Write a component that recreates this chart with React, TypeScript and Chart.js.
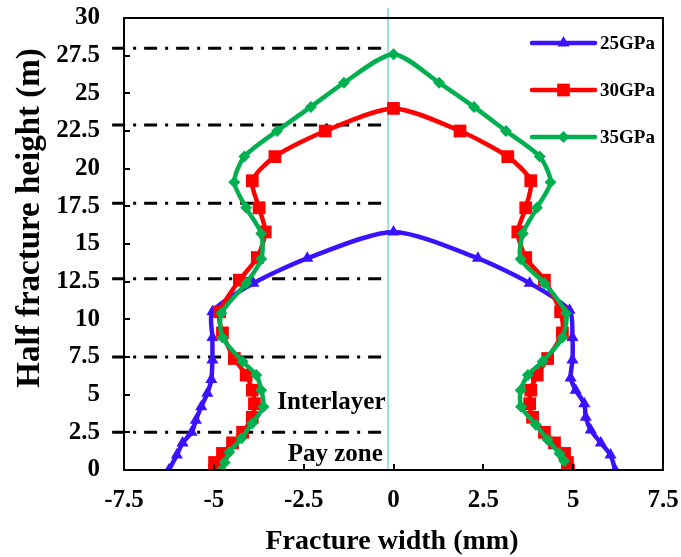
import React, { useEffect, useRef } from 'react';
import { Chart, registerables } from 'chart.js';

Chart.register(...registerables);

// ---------- data ----------
const seriesNames = ['25GPa', '30GPa', '35GPa'];
const seriesColors = ['#3a12ff', '#ff0000', '#00b050'];

// 25 GPa: left branch (bottom -> top), right branch (just below top -> bottom)
const gpa25LeftX = [-6.25, -6.03, -5.87, -5.62, -5.5, -5.35, -5.18, -5.07, -5.04, -5.04, -5.04, -3.9, -2.4, 0];
const gpa25LeftY = [0, 1.0, 1.8, 2.5, 3.3, 4.2, 5.1, 6.0, 7.3, 8.8, 10.5, 12.4, 14.05, 15.8];
const gpa25RightX = [2.35, 3.79, 4.9, 4.98, 4.98, 4.93, 5.07, 5.31, 5.35, 5.49, 5.77, 6.04, 6.17];
const gpa25RightY = [14.05, 12.4, 10.6, 8.8, 7.3, 6.1, 5.3, 4.4, 3.5, 2.65, 1.8, 1.0, 0];

// 30 GPa
const gpa30LeftX = [-4.98, -4.98, -4.76, -4.48, -4.2, -3.93, -3.87, -3.93, -4.1, -4.43, -4.76, -4.84, -4.29, -3.79, -3.57, -3.74, -3.93, -3.3, -1.9, 0];
const gpa30LeftY = [0, 0.5, 1.1, 1.8, 2.5, 3.5, 4.4, 5.3, 6.3, 7.4, 9.1, 10.5, 12.6, 14.1, 15.8, 17.4, 19.2, 20.8, 22.5, 24.0];
const gpa30RightX = [1.85, 3.18, 3.82, 3.68, 3.46, 3.68, 4.2, 4.65, 4.7, 4.29, 4.0, 3.82, 3.79, 3.87, 4.2, 4.48, 4.76, 4.84, 4.87];
const gpa30RightY = [22.5, 20.8, 19.2, 17.4, 15.8, 14.1, 12.6, 10.5, 9.1, 7.4, 6.3, 5.3, 4.4, 3.5, 2.5, 1.8, 1.1, 0.5, 0];

// 35 GPa
const gpa35LeftX = [-4.79, -4.7, -4.57, -4.23, -3.93, -3.62, -3.68, -3.82, -4.2, -4.76, -4.79, -4.1, -3.68, -3.68, -4.1, -4.43, -4.15, -3.24, -2.3, -1.38, 0];
const gpa35LeftY = [0, 0.5, 1.2, 2.1, 3.1, 4.2, 5.3, 6.3, 7.2, 8.8, 10.4, 12.4, 14.0, 15.7, 17.4, 19.1, 20.8, 22.5, 24.1, 25.7, 27.6];
const gpa35RightX = [1.27, 2.24, 3.13, 4.07, 4.37, 3.99, 3.6, 3.54, 4.2, 4.8, 4.7, 4.15, 3.74, 3.54, 3.55, 3.96, 4.29, 4.62, 4.75];
const gpa35RightY = [25.7, 24.1, 22.5, 20.8, 19.1, 17.4, 15.7, 14.0, 12.4, 10.4, 8.8, 7.2, 6.3, 5.3, 4.2, 3.0, 2.0, 1.1, 0.6];

// layer boundary (dash-dot) lines and centre line
const boundaryY = [2.5, 7.5, 12.7, 17.7, 22.9, 28.0];
const boundaryStartX = -7.83;
const boundaryEndX = -0.25;
const centerLineX = -0.15;
const centerLineY = [0, 30.65];

// zone labels
const zoneLabels = ['Interlayer', 'Pay zone'];
const zoneLabelX = [-1.73, -1.62];
const zoneLabelY = [4.5, 1.0];

// axes
const xTickValues = [-7.5, -5, -2.5, 0, 2.5, 5, 7.5];
const xTickLabels = ['-7.5', '-5', '-2.5', '0', '2.5', '5', '7.5'];
const yTickValues = [0, 2.5, 5, 7.5, 10, 12.5, 15, 17.5, 20, 22.5, 25, 27.5, 30];
const yTickLabels = ['0', '2.5', '5', '7.5', '10', '12.5', '15', '17.5', '20', '22.5', '25', '27.5', '30'];
const xTitle = 'Fracture width (mm)';
const yTitle = 'Half fracture height (m)';

// ---------- helpers ----------
const FONT = "'Liberation Serif', 'Times New Roman', serif";

function zip(xs: number[], ys: number[]) {
  return xs.map((x, i) => ({ x, y: ys[i] }));
}

const pointStyles = ['triangle', 'rect', 'rectRot'];
const pointRadii = [7, 9, 6];

function drawMarker(ctx: CanvasRenderingContext2D, style: string, x: number, y: number, r: number, color: string) {
  ctx.fillStyle = color;
  ctx.beginPath();
  if (style === 'triangle') {
    const half = r * Math.sin(Math.PI / 3);
    ctx.moveTo(x, y - r);
    ctx.lineTo(x + half, y + r / 2);
    ctx.lineTo(x - half, y + r / 2);
  } else if (style === 'rect') {
    const s = r * Math.SQRT1_2;
    ctx.rect(x - s, y - s, 2 * s, 2 * s);
  } else {
    ctx.moveTo(x, y - r);
    ctx.lineTo(x + r, y);
    ctx.lineTo(x, y + r);
    ctx.lineTo(x - r, y);
  }
  ctx.closePath();
  ctx.fill();
}

const overlayPlugin = {
  id: 'overlay',
  afterDraw(chart: any) {
    const { ctx, chartArea } = chart;
    const { left, right, top, bottom } = chartArea;
    const xs = chart.scales.x;
    const ys = chart.scales.y;
    ctx.save();
    // frame
    ctx.strokeStyle = '#000';
    ctx.lineWidth = 2;
    ctx.strokeRect(left, top, right - left, bottom - top);
    // inward tick marks
    ctx.beginPath();
    xTickValues.forEach((v) => {
      const px = Math.round(xs.getPixelForValue(v));
      ctx.moveTo(px, bottom);
      ctx.lineTo(px, bottom - 6);
    });
    yTickValues.forEach((v) => {
      const py = Math.round(ys.getPixelForValue(v));
      ctx.moveTo(left, py);
      ctx.lineTo(left + 6, py);
    });
    ctx.stroke();

    // zone labels
    ctx.fillStyle = '#000';
    ctx.font = `bold 25px ${FONT}`;
    ctx.textAlign = 'center';
    ctx.textBaseline = 'middle';
    zoneLabels.forEach((t, i) => {
      ctx.fillText(t, xs.getPixelForValue(zoneLabelX[i]), ys.getPixelForValue(zoneLabelY[i]));
    });

    // legend
    const legX0 = 532;
    const legX1 = 595;
    const legY0 = 43;
    const legDy = 47;
    ctx.font = `bold 19px ${FONT}`;
    ctx.textAlign = 'left';
    seriesNames.forEach((name, i) => {
      const yy = legY0 + i * legDy;
      ctx.strokeStyle = seriesColors[i];
      ctx.lineWidth = 4.5;
      ctx.lineCap = 'round';
      ctx.beginPath();
      ctx.moveTo(legX0, yy);
      ctx.lineTo(legX1, yy);
      ctx.stroke();
      drawMarker(ctx, pointStyles[i], (legX0 + legX1) / 2, yy, pointRadii[i], seriesColors[i]);
      ctx.fillStyle = '#000';
      ctx.fillText(name, 600, yy + 1);
    });

    // axis titles
    ctx.fillStyle = '#000';
    ctx.font = `bold 28px ${FONT}`;
    ctx.textAlign = 'center';
    ctx.textBaseline = 'middle';
    ctx.fillText(xTitle, 392, 542);
    ctx.save();
    ctx.translate(30, 218);
    ctx.rotate(-Math.PI / 2);
    ctx.font = `bold 33px ${FONT}`;
    ctx.fillText(yTitle, 0, 0);
    ctx.restore();

    ctx.restore();
  },
};

export default function App() {
  const canvasRef = useRef<HTMLCanvasElement | null>(null);

  useEffect(() => {
    const canvas = canvasRef.current;
    if (!canvas) return;

    const seriesData = [
      [...zip(gpa25LeftX, gpa25LeftY), ...zip(gpa25RightX, gpa25RightY)],
      [...zip(gpa30LeftX, gpa30LeftY), ...zip(gpa30RightX, gpa30RightY)],
      [...zip(gpa35LeftX, gpa35LeftY), ...zip(gpa35RightX, gpa35RightY)],
    ];

    const curveSets = seriesNames.map((name, i) => ({
      label: name,
      data: seriesData[i],
      borderColor: seriesColors[i],
      backgroundColor: seriesColors[i],
      borderWidth: 4.5,
      pointStyle: pointStyles[i],
      pointRadius: pointRadii[i],
      pointBorderWidth: 0,
      pointBackgroundColor: seriesColors[i],
      tension: 0.25,
      order: 3 - i,
    }));

    const boundarySets = boundaryY.map((yv) => ({
      label: 'boundary',
      data: [
        { x: boundaryStartX, y: yv },
        { x: boundaryEndX, y: yv },
      ],
      borderColor: '#000',
      borderWidth: 3,
      borderDash: [13, 8, 3, 8],
      pointRadius: 0,
      clip: false as any,
      order: 10,
    }));

    const centerSet = {
      label: 'centre',
      data: centerLineY.map((yv) => ({ x: centerLineX, y: yv })),
      borderColor: '#9fdce2',
      borderWidth: 2,
      pointRadius: 0,
      clip: false as any,
      order: 9,
    };

    const tickFont = { family: FONT, size: 25, weight: 'bold' as const };

    const chart = new Chart(canvas, {
      type: 'line',
      data: { datasets: [...curveSets, ...boundarySets, centerSet] as any },
      options: {
        responsive: false,
        animation: false,
        layout: { padding: { top: 18, right: 18, left: 0, bottom: 0 } },
        plugins: { legend: { display: false }, tooltip: { enabled: false } },
        scales: {
          x: {
            type: 'linear',
            min: -7.5,
            max: 7.5,
            afterBuildTicks: (s: any) => {
              s.ticks = xTickValues.map((v) => ({ value: v }));
            },
            afterFit: (s: any) => {
              s.height = 87;
              s.paddingLeft = 0;
              s.paddingRight = 0;
            },
            ticks: {
              callback: (_v: any, idx: number) => xTickLabels[idx],
              font: tickFont,
              color: '#000',
              padding: 16,
              maxRotation: 0,
              autoSkip: false,
            },
            grid: { display: false, drawTicks: false },
            border: { display: false },
          },
          y: {
            type: 'linear',
            min: 0,
            max: 30,
            afterBuildTicks: (s: any) => {
              s.ticks = yTickValues.map((v) => ({ value: v }));
            },
            afterFit: (s: any) => {
              s.width = 124;
              s.paddingTop = 0;
              s.paddingBottom = 0;
            },
            ticks: {
              callback: (_v: any, idx: number) => yTickLabels[idx],
              font: tickFont,
              color: '#000',
              padding: 24,
              autoSkip: false,
            },
            grid: { display: false, drawTicks: false },
            border: { display: false },
          },
        },
      },
      plugins: [overlayPlugin],
    });

    return () => chart.destroy();
  }, []);

  return (
    <div style={{ position: 'fixed', left: 0, top: 0, width: 681, height: 557, background: '#fff' }}>
      <canvas ref={canvasRef} width={681} height={557} style={{ display: 'block' }} />
    </div>
  );
}
